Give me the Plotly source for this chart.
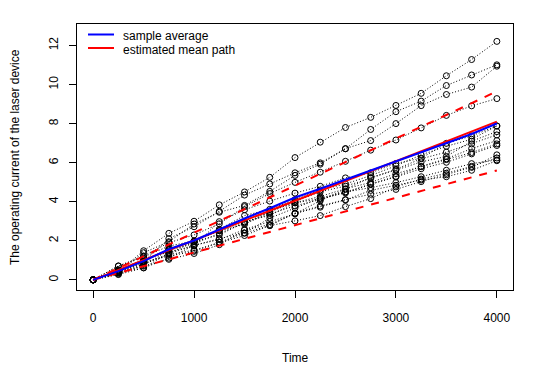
import plotly.graph_objects as go

# Measurement times (hours)
times = [0, 250, 500, 750, 1000, 1250, 1500, 1750, 2000, 2250, 2500, 2750,
         3000, 3250, 3500, 3750, 4000]

# Operating current per laser unit
unit01 = [0, 0.47, 0.93, 2.11, 2.72, 3.51, 4.34, 4.91, 5.48, 5.99, 6.72, 7.13, 8.00, 8.92, 9.49, 9.87, 10.94]
unit02 = [0, 0.71, 1.22, 1.90, 2.30, 2.87, 3.75, 4.42, 4.99, 5.51, 6.07, 6.64, 7.16, 7.78, 8.42, 8.91, 9.28]
unit03 = [0, 0.71, 1.17, 1.73, 1.99, 2.53, 2.97, 3.30, 3.94, 4.16, 4.45, 4.89, 5.27, 5.69, 6.02, 6.45, 6.88]
unit04 = [0, 0.36, 0.62, 1.36, 1.95, 2.30, 2.95, 3.39, 3.79, 4.11, 4.50, 4.72, 4.98, 5.28, 5.61, 5.95, 6.14]
unit05 = [0, 0.27, 0.61, 1.11, 1.77, 2.06, 2.58, 2.99, 3.38, 4.05, 4.63, 5.24, 5.62, 6.04, 6.32, 7.10, 7.59]
unit06 = [0, 0.36, 1.39, 1.95, 2.86, 3.46, 3.81, 4.53, 5.35, 5.92, 6.71, 7.70, 8.61, 9.15, 9.95, 10.49, 11.01]
unit07 = [0, 0.36, 0.92, 1.21, 1.46, 1.93, 2.39, 3.16, 3.69, 4.19, 4.50, 4.91, 5.30, 5.81, 6.20, 6.72, 7.13]
unit08 = [0, 0.46, 1.07, 1.42, 1.77, 2.11, 2.40, 2.78, 3.02, 3.29, 3.75, 4.16, 4.76, 5.16, 5.46, 5.81, 6.24]
unit09 = [0, 0.51, 0.93, 1.57, 1.96, 2.59, 3.29, 3.61, 4.11, 4.60, 4.91, 5.34, 5.84, 6.40, 6.84, 7.20, 7.88]
unit10 = [0, 0.41, 1.49, 2.38, 3.00, 3.84, 4.50, 5.25, 6.26, 7.05, 7.80, 8.32, 8.93, 9.55, 10.45, 11.28, 12.21]
unit11 = [0, 0.44, 1.00, 1.57, 1.96, 2.51, 2.84, 3.47, 4.01, 4.51, 4.80, 5.20, 5.66, 6.20, 6.54, 6.96, 7.42]
unit12 = [0, 0.39, 0.80, 1.35, 1.74, 2.98, 3.59, 4.03, 4.44, 4.79, 5.22, 5.48, 5.96, 6.23, 6.99, 7.37, 7.88]
unit13 = [0, 0.30, 0.74, 1.52, 1.85, 2.39, 2.91, 3.51, 3.95, 4.27, 4.66, 4.99, 5.44, 5.79, 6.16, 6.52, 6.96]
unit14 = [0, 0.44, 0.70, 1.05, 1.35, 1.80, 2.55, 2.83, 3.39, 3.72, 4.09, 4.58, 4.84, 5.11, 5.28, 5.61, 6.10]
unit15 = [0, 0.51, 0.83, 1.29, 1.52, 1.91, 2.27, 2.78, 3.42, 3.78, 4.11, 4.38, 4.63, 5.03, 5.38, 5.76, 6.40]

units = [unit01, unit02, unit03, unit04, unit05, unit06, unit07, unit08,
         unit09, unit10, unit11, unit12, unit13, unit14, unit15]

# Estimated mean path and its bounds (straight lines from the origin)
path_times = [0, 4000]
est_mean = [0, 8.10]
est_upper = [0, 9.65]
est_lower = [0, 5.60]

# Sample average across units at each time
sample_avg = [sum(u[i] for u in units) / len(units) for i in range(len(times))]

x_ticks = [0, 1000, 2000, 3000, 4000]
y_ticks = [0, 2, 4, 6, 8, 10, 12]

legend_labels = ["sample average", "estimated mean path"]
legend_colors = ["blue", "red"]

FONT = "Liberation Sans, Arial, sans-serif"

# The page body has an 8px margin; size the figure so that it fills the window.
OFF = 8
W, H = 552 - OFF, 367 - OFF
# plot area in window pixels: x 77..513, y 24..290
L, R, T, B = 77 - OFF, 552 - 513, 24 - OFF, 367 - 290
PW, PH = W - L - R, H - T - B


def px_x(px):  # window pixel -> paper x
    return (px - OFF - L) / PW


def px_y(py):  # window pixel -> paper y
    return (H - B - (py - OFF)) / PH


fig = go.Figure()

for u in units:
    fig.add_trace(go.Scatter(
        x=times, y=u, mode="lines+markers", showlegend=False,
        line=dict(color="black", width=1, dash="1px,2px"),
        marker=dict(symbol="circle-open", size=6, color="black",
                    line=dict(width=1, color="black")),
        hoverinfo="skip"))

fig.add_trace(go.Scatter(
    x=path_times, y=est_mean, mode="lines", name=legend_labels[1],
    showlegend=False, line=dict(color="red", width=2)))
for b in (est_upper, est_lower):
    fig.add_trace(go.Scatter(
        x=path_times, y=b, mode="lines", showlegend=False,
        line=dict(color="red", width=2, dash="8px,8px")))

fig.add_trace(go.Scatter(
    x=times, y=sample_avg, mode="lines", name=legend_labels[0],
    showlegend=False, line=dict(color="blue", width=2)))

# manual legend (top-left, no box)
shapes = []
annotations = []
for i, (lab, col) in enumerate(zip(legend_labels, legend_colors)):
    ly = 34.5 + 13.5 * i
    shapes.append(dict(type="line", xref="paper", yref="paper",
                       x0=px_x(88), x1=px_x(114), y0=px_y(ly), y1=px_y(ly),
                       line=dict(color=col, width=2)))
    annotations.append(dict(text=lab, xref="paper", yref="paper",
                            x=px_x(121), y=px_y(ly + 2), xanchor="left",
                            yanchor="middle", showarrow=False,
                            font=dict(family=FONT, size=12, color="black")))

# axis titles
annotations.append(dict(text="Time", xref="paper", yref="paper",
                        x=0.5, y=px_y(358), xanchor="center", yanchor="middle",
                        showarrow=False,
                        font=dict(family=FONT, size=12, color="black")))
annotations.append(dict(text="The operating current of the laser device",
                        xref="paper", yref="paper", x=px_x(15), y=0.5,
                        xanchor="center", yanchor="middle", textangle=-90,
                        showarrow=False,
                        font=dict(family=FONT, size=12, color="black")))

axis_common = dict(
    showgrid=False, zeroline=False, showline=True, mirror=True,
    linecolor="black", linewidth=1, ticks="outside", ticklen=7,
    tickcolor="black", tickwidth=1, automargin=False,
    tickfont=dict(family=FONT, size=12, color="black"),
)

fig.update_layout(
    width=W, height=H,
    margin=dict(l=L, r=R, t=T, b=B),
    paper_bgcolor="white", plot_bgcolor="white",
    font=dict(family=FONT, size=12, color="black"),
    showlegend=False,
    shapes=shapes,
    annotations=annotations,
    xaxis=dict(range=[-160, 4160], tickvals=x_ticks,
               ticklabelstandoff=10, **axis_common),
    yaxis=dict(range=[-0.52, 13.1], tickvals=y_ticks, tickangle=-90,
               ticklabelstandoff=6, **axis_common),
)

fig.write_html("out.html")
